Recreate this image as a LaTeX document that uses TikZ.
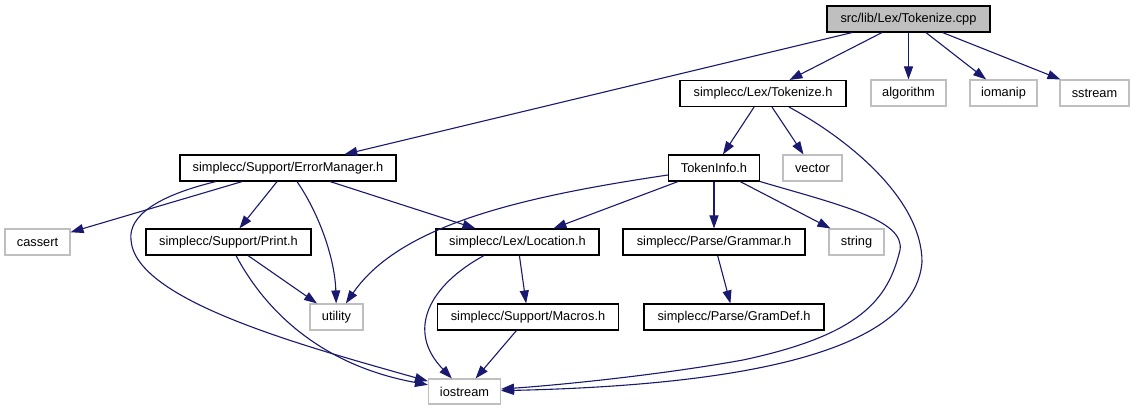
\documentclass[tikz,border=0pt]{standalone}
\usepackage{fontspec}
\setmainfont{Liberation Sans}
\usetikzlibrary{arrows.meta}
\definecolor{edgeblue}{HTML}{191970}
\definecolor{extgray}{HTML}{BFBFBF}
\tikzset{
  box/.style={draw=black, line width=1.1pt, minimum height=26pt, inner sep=0pt, anchor=center, font=\fontsize{12.8}{15}\selectfont},
  extbox/.style={box, draw=extgray},
  rootbox/.style={box, fill=extgray},
  dep/.style={draw=edgeblue, line width=1.1pt, -{Triangle[length=13pt,width=9pt]}, fill=none},
}
\begin{document}
\begin{tikzpicture}[x=1pt,y=-1pt]
\useasboundingbox (0,0) rectangle (1135,411);
\fill[white] (0,0) rectangle (1135,411);
% nodes
\node[rootbox, minimum width=163pt] (cpp) at (908.5,19) {src/lib/Lex/Tokenize.cpp};
\node[box, minimum width=166pt] (tokh) at (763,93.5) {simplecc/Lex/Tokenize.h};
\node[extbox, minimum width=75pt] (algorithm) at (908.5,93) {algorithm};
\node[extbox, minimum width=67pt] (iomanip) at (1003.5,93) {iomanip};
\node[extbox, minimum width=69pt] (sstream) at (1094.5,93) {sstream};
\node[box, minimum width=91pt] (tokinfo) at (714,168) {TokenInfo.h};
\node[extbox, minimum width=59pt] (vector) at (812.5,168) {vector};
\node[box, minimum width=216pt] (errmgr) at (288,168) {simplecc/Support/ErrorManager.h};
\node[extbox, minimum width=65pt] (cassert) at (37.5,242) {cassert};
\node[box, minimum width=165pt] (print) at (228.5,242) {simplecc/Support/Print.h};
\node[box, minimum width=163pt] (location) at (517.5,242) {simplecc/Lex/Location.h};
\node[box, minimum width=182pt] (grammar) at (714,242) {simplecc/Parse/Grammar.h};
\node[extbox, minimum width=55pt] (string) at (856.5,242) {string};
\node[extbox, minimum width=53pt] (utility) at (336.5,317) {utility};
\node[box, minimum width=181pt] (macros) at (528,317) {simplecc/Support/Macros.h};
\node[box, minimum width=180pt] (gramdef) at (734,317) {simplecc/Parse/GramDef.h};
\node[extbox, minimum width=72pt, minimum height=25pt] (iostream) at (464.5,391.5) {iostream};
% edges from Tokenize.cpp
\draw[dep] (cpp) -- (errmgr);
\draw[dep] (cpp) -- (tokh);
\draw[dep] (cpp) -- (algorithm);
\draw[dep] (cpp) -- (iomanip);
\draw[dep] (cpp) -- (sstream);
% edges from Tokenize.h
\draw[dep] (tokh) -- (tokinfo);
\draw[dep] (tokh) -- (vector);
\draw[dep] ([xshift=26pt]tokh.south) .. controls (850,140) and (922,200) .. (922,262)
  .. controls (915,350) and (750,385) .. (iostream);
% edges from TokenInfo.h
\draw[dep] ([yshift=-7pt]tokinfo.west) .. controls (520,197) and (400,225) .. (utility);
\draw[dep] (tokinfo) -- (location);
\draw[dep] (tokinfo) -- (grammar);
\draw[dep] (tokinfo) -- (string);
\draw[dep] (tokinfo.south east) .. controls (840,205) and (905,220) .. (900,250)
  .. controls (888,300) and (860,335) .. (743,360)
  .. controls (660,375) and (560,385) .. (iostream);
% edges from ErrorManager.h
\draw[dep] (errmgr) -- (cassert);
\draw[dep] ([xshift=-72pt]errmgr.south) .. controls (160,195) and (128,215) .. (131,240)
  .. controls (135,300) and (300,345) .. (iostream);
\draw[dep] (errmgr) -- (print);
\draw[dep] ([xshift=9pt]errmgr.south) .. controls (320,215) and (335,260) .. (utility);
\draw[dep] (errmgr) -- (location);
% edges from Print.h
\draw[dep] (print) -- (utility);
\draw[dep] ([xshift=7.5pt]print.south) .. controls (265,310) and (320,365) .. (iostream);
% edges from Location.h
\draw[dep] (location) -- (macros);
\draw[dep] ([xshift=-33.5pt]location.south) .. controls (430,285) and (405,330) .. (iostream);
% others
\draw[dep] (macros) -- (iostream);
\draw[dep] (grammar) -- (gramdef);
\end{tikzpicture}
\end{document}
